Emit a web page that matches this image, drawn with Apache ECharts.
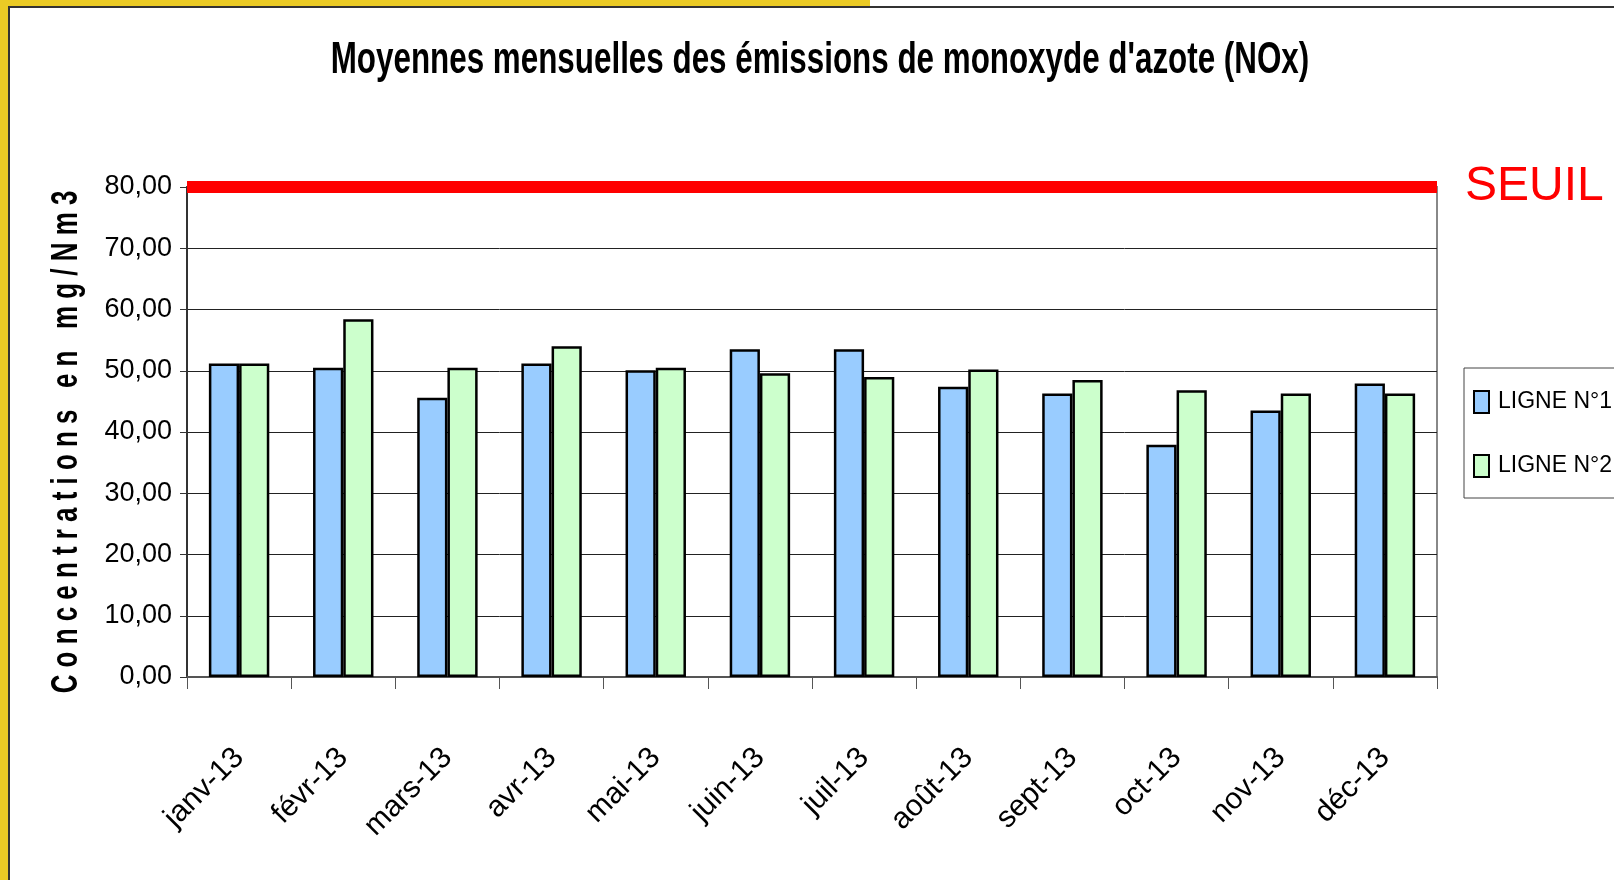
<!DOCTYPE html>
<html>
<head>
<meta charset="utf-8">
<title>NOx</title>
<script src="https://cdn.jsdelivr.net/npm/echarts@6/dist/echarts.min.js"></script>
<style>
  html, body { margin: 0; padding: 0; background: #fff; }
  #chart { width: 1614px; height: 880px; }
</style>
</head>
<body>
<div id="chart"></div>
<script>
// données
var months = ['janv-13', 'févr-13', 'mars-13', 'avr-13', 'mai-13', 'juin-13',
  'juil-13', 'août-13', 'sept-13', 'oct-13', 'nov-13', 'déc-13'];
var ligne1 = [51.2, 50.5, 45.6, 51.2, 50.1, 53.5, 53.5, 47.4, 46.3, 37.9, 43.5, 47.9];
var ligne2 = [51.2, 58.4, 50.5, 54.0, 50.5, 49.6, 49.0, 50.2, 48.5, 46.8, 46.3, 46.3];
var seuil = 80;
var yTicks = [0, 10, 20, 30, 40, 50, 60, 70, 80];

var titre = "Moyennes mensuelles des émissions de monoxyde d'azote (NOx)";
var titreAxe = 'C o n c e n t r a t i o n s   e n   m g / N m 3';

var ARIAL = '"Liberation Sans", Arial, sans-serif';

var chart = echarts.init(document.getElementById('chart'));

var option = {
  backgroundColor: '#fff',
  animation: false,
  legend: {
    orient: 'vertical',
    left: 1464,
    top: 368,
    padding: [22, 60, 20, 9],
    itemGap: 40,
    itemWidth: 15,
    itemHeight: 22,
    borderColor: '#444',
    borderWidth: 1,
    icon: 'rect',
    itemStyle: { borderColor: '#000', borderWidth: 2 },
    textStyle: { fontFamily: ARIAL, fontSize: 23, color: '#000', padding: [0, 0, 0, 4] },
    data: ['LIGNE N°1', 'LIGNE N°2']
  },
  grid: {
    left: 187,
    right: 177,
    top: 187,
    bottom: 203,
    show: true,
    borderColor: '#888',
    borderWidth: 2
  },
  xAxis: {
    type: 'category',
    data: months,
    axisLine: { lineStyle: { color: '#555', width: 2 } },
    axisTick: { show: true, length: 12, lineStyle: { color: '#555', width: 1 } },
    axisLabel: {
      rotate: 45,
      margin: 76,
      fontFamily: ARIAL,
      fontSize: 30,
      color: '#000'
    }
  },
  yAxis: {
    type: 'value',
    min: 0,
    max: 80,
    interval: 10,
    axisLine: { show: true, lineStyle: { color: '#333', width: 2 } },
    axisTick: { show: true, length: 7, lineStyle: { color: '#333' } },
    axisLabel: {
      margin: 15,
      fontFamily: ARIAL,
      fontSize: 27,
      color: '#000',
      formatter: function (v) {
        return yTicks.indexOf(v) >= 0 ? v.toFixed(2).replace('.', ',') : '';
      }
    },
    splitLine: { lineStyle: { color: '#222', width: 1 } }
  },
  series: [
    {
      name: 'LIGNE N°1',
      type: 'bar',
      data: ligne1,
      barGap: '0%',
      barCategoryGap: '42%',
      itemStyle: { color: '#99CCFF', borderColor: '#000', borderWidth: 2.5 },
      markLine: {
        silent: true,
        symbol: 'none',
        lineStyle: { color: '#FF0000', width: 12, type: 'solid' },
        label: {
          show: true,
          position: 'end',
          distance: 28,
          formatter: 'SEUIL',
          fontFamily: ARIAL,
          fontSize: 48,
          color: '#FF0000',
          padding: [4, 0, 0, 0]
        },
        data: [{ yAxis: seuil }]
      }
    },
    {
      name: 'LIGNE N°2',
      type: 'bar',
      data: ligne2,
      barGap: '0%',
      barCategoryGap: '42%',
      itemStyle: { color: '#CCFFCC', borderColor: '#000', borderWidth: 2.5 }
    }
  ],
  graphic: [
    // titre (police étroite : on compresse en largeur)
    {
      type: 'text', x: 820, y: 61, scaleX: 0.713,
      style: { text: titre, fontFamily: ARIAL, fontWeight: 'bold', fontSize: 44, fill: '#000',
        textAlign: 'center', textVerticalAlign: 'middle' }
    },
    // titre de l'axe Y
    {
      type: 'text', x: 67, y: 442, rotation: Math.PI / 2, scaleX: 0.72,
      style: { text: titreAxe, fontFamily: ARIAL, fontWeight: 'bold', fontSize: 36, fill: '#000',
        textAlign: 'center', textVerticalAlign: 'middle' }
    },
    // cadre
    { type: 'rect', shape: { x: 0, y: 0, width: 870, height: 6 }, style: { fill: '#EBCB25' }, z: 100 },
    { type: 'rect', shape: { x: 0, y: 0, width: 8, height: 880 }, style: { fill: '#EBCB25' }, z: 100 },
    { type: 'polyline', shape: { points: [[9, 880], [9, 7], [1614, 7]] }, style: { stroke: '#333', lineWidth: 2, fill: null }, z: 100 }
  ]
};

chart.setOption(option);
</script>
</body>
</html>
